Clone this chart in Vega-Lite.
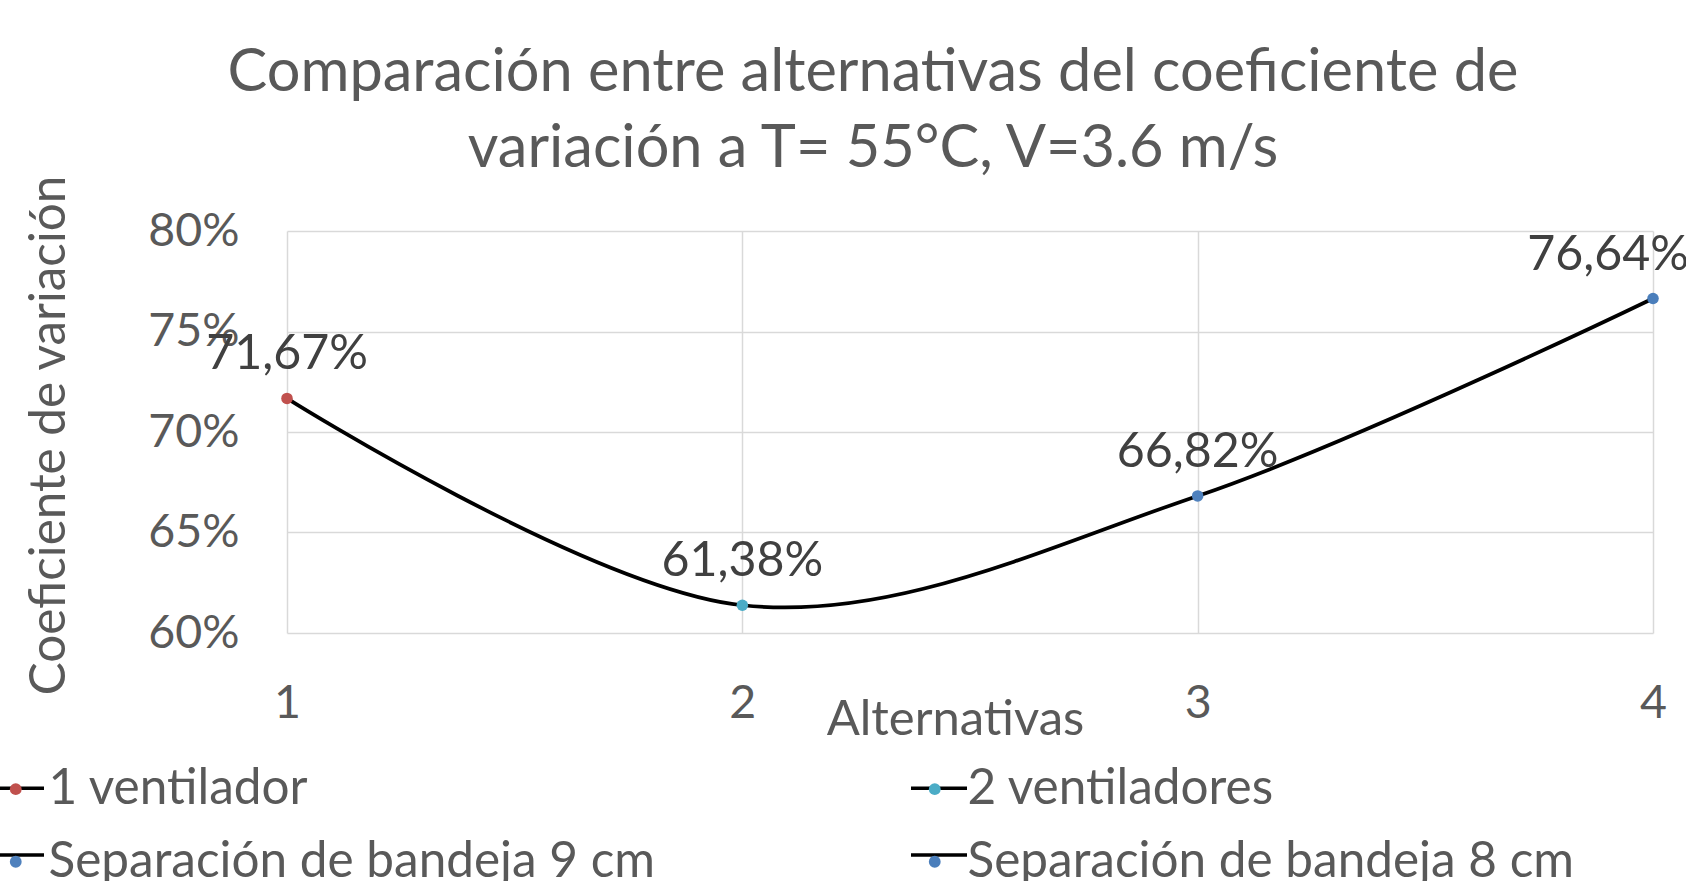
{
  "$schema": "https://vega.github.io/schema/vega-lite/v6.json",
  "autosize": {"type": "none"},
  "width": 1366,
  "height": 402,
  "padding": {"left": 287, "top": 231, "right": 33, "bottom": 248},
  "background": "white",
  "title": {
    "text": ["Comparación entre alternativas del coeficiente de", "variación a T= 55°C, V=3.6 m/s"],
    "font": "Lato",
    "fontSize": 59.5,
    "fontWeight": "normal",
    "color": "#595959",
    "lineHeight": 76,
    "anchor": "middle",
    "frame": "group",
    "dx": -97,
    "dy": 11,
    "offset": 6
  },
  "data": {
    "values": [
      {"alternativa": 1, "cv": 0.7167, "serie": "1 ventilador"},
      {"alternativa": 2, "cv": 0.6138, "serie": "2 ventiladores"},
      {"alternativa": 3, "cv": 0.6682, "serie": "Separación de bandeja 9 cm"},
      {"alternativa": 4, "cv": 0.7664, "serie": "Separación de bandeja 8 cm"}
    ]
  },
  "encoding": {
    "x": {
      "field": "alternativa",
      "type": "quantitative",
      "scale": {"domain": [1, 4], "nice": false, "zero": false},
      "axis": {
        "values": [1, 2, 3, 4],
        "format": "d",
        "title": "Alternativas",
        "titleX": 668,
        "titleY": 101,
        "titleAlign": "center",
        "titleBaseline": "alphabetic",
        "titleFont": "Lato",
        "titleFontSize": 49,
        "titleFontWeight": "normal",
        "titleColor": "#595959",
        "labelFont": "Lato",
        "labelFontSize": 46.5,
        "labelColor": "#595959",
        "labelPadding": 47,
        "labelFlush": false,
        "domain": false,
        "ticks": false,
        "grid": true,
        "gridColor": "#d9d9d9",
        "gridWidth": 1.5
      }
    },
    "y": {
      "field": "cv",
      "type": "quantitative",
      "scale": {"domain": [0.6, 0.8], "nice": false, "zero": false},
      "axis": {
        "values": [0.6, 0.65, 0.7, 0.75, 0.8],
        "format": ".0%",
        "title": "Coeficiente de variación",
        "titleX": -223,
        "titleY": 204,
        "titleAngle": 270,
        "titleAlign": "center",
        "titleBaseline": "alphabetic",
        "titleFont": "Lato",
        "titleFontSize": 49.4,
        "titleFontWeight": "normal",
        "titleColor": "#595959",
        "labelFont": "Lato",
        "labelFontSize": 46.5,
        "labelColor": "#595959",
        "labelPadding": 48,
        "labelFlush": false,
        "domain": false,
        "ticks": false,
        "grid": true,
        "gridColor": "#d9d9d9",
        "gridWidth": 1.5
      }
    }
  },
  "layer": [
    {
      "mark": {"type": "line", "interpolate": "cardinal", "color": "black", "strokeWidth": 3.7}
    },
    {
      "mark": {"type": "point", "filled": true, "size": 133, "opacity": 1},
      "encoding": {
        "fill": {
          "field": "serie",
          "type": "nominal",
          "scale": {
            "domain": ["1 ventilador", "2 ventiladores", "Separación de bandeja 9 cm", "Separación de bandeja 8 cm"],
            "range": ["#C0504D", "#4BACC6", "#4F81BD", "#4A7EBB"]
          },
          "legend": {
            "title": null,
            "orient": "none",
            "legendX": -296,
            "legendY": 533,
            "zindex": 2,
            "direction": "horizontal",
            "columns": 2,
            "columnPadding": 255,
            "rowPadding": 22,
            "symbolType": "circle",
            "symbolSize": 140,
            "symbolStrokeWidth": 0,
            "labelOffset": 8,
            "labelFont": "Lato",
            "labelFontSize": 49.5,
            "labelColor": "#595959",
            "labelLimit": 1000
          }
        }
      }
    },
    {
      "transform": [{"filter": "datum.alternativa < 4"}],
      "mark": {"type": "text", "font": "Lato", "fontSize": 48.3, "color": "#404040", "baseline": "alphabetic", "align": "center", "dy": -29},
      "encoding": {"text": {"field": "cv", "type": "quantitative", "format": ".2%"}}
    },
    {
      "transform": [{"filter": "datum.alternativa == 4"}],
      "mark": {"type": "text", "font": "Lato", "fontSize": 48.3, "color": "#404040", "baseline": "alphabetic", "align": "center", "dy": -29, "dx": -45},
      "encoding": {"text": {"field": "cv", "type": "quantitative", "format": ".2%"}}
    },
    {
      "mark": {"type": "line", "strokeWidth": 3.5, "strokeCap": "butt"},
      "encoding": {
        "stroke": {
          "field": "serie",
          "type": "nominal",
          "sort": null,
          "scale": {"range": ["black", "black", "black", "black"]},
          "legend": {
            "title": null,
            "orient": "none",
            "legendX": -301,
            "legendY": 527,
            "zindex": 1,
            "direction": "horizontal",
            "columns": 2,
            "columnPadding": 251,
            "rowPadding": 12,
            "symbolType": "stroke",
            "symbolSize": 3136,
            "symbolStrokeWidth": 3.5,
            "symbolStrokeColor": "black",
            "labelOffset": 0,
            "labelFont": "Lato",
            "labelFontSize": 49.5,
            "labelColor": "#595959",
            "labelOpacity": 0,
            "labelLimit": 1000
          }
        }
      }
    }
  ],
  "resolve": {"scale": {"fill": "independent", "stroke": "independent"}, "legend": {"fill": "independent", "stroke": "independent"}},
  "config": {
    "view": {"stroke": null},
    "locale": {"number": {"decimal": ",", "thousands": ".", "grouping": [3], "currency": ["", " €"]}}
  }
}
